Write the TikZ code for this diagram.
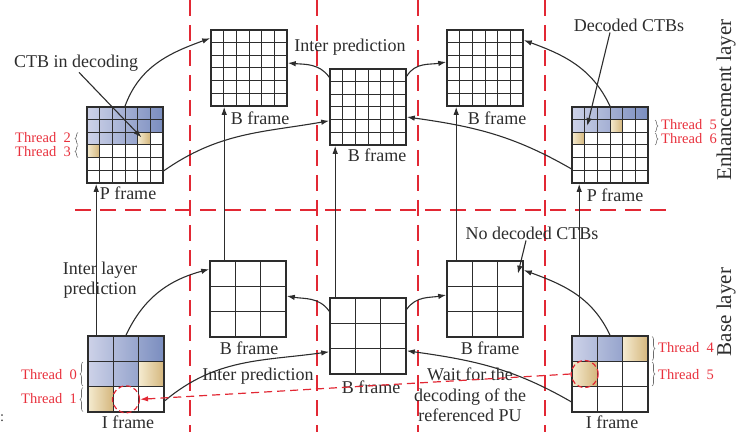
\documentclass[tikz,border=0pt]{standalone}
\usepackage{fontspec}
\setmainfont{Liberation Serif}
\usetikzlibrary{arrows.meta,decorations.pathreplacing}

\definecolor{ink}{RGB}{45,45,45}
\definecolor{sepred}{RGB}{226,40,52}
\definecolor{threadred}{RGB}{232,48,60}
\definecolor{bluelt}{RGB}{205,210,232}
\definecolor{bluedk}{RGB}{122,141,191}
\definecolor{tanlt}{RGB}{245,235,208}
\definecolor{tandk}{RGB}{212,182,124}

\tikzset{
  cellline/.style={draw=ink, line width=1pt},
  frame/.style={draw=ink, line width=1.6pt, minimum size=76pt, inner sep=0pt},
  bluefill/.style={left color=bluelt, right color=bluedk},
  tanfill/.style={left color=tanlt, right color=tandk},
  lbl/.style={font=\fontsize{18}{20.5}\selectfont, text=ink, inner sep=1pt, align=center},
  thr/.style={font=\fontsize{14.5}{16}\selectfont, text=threadred, inner sep=0pt},
  layer/.style={font=\fontsize{21}{24}\selectfont, text=ink, rotate=90},
  conn/.style={draw=ink, line width=1.1pt, -{Latex[length=8pt,width=5.5pt]}},
  sep/.style={draw=sepred, line width=1.3pt, dash pattern=on 16pt off 9pt},
  waitmark/.style={circle, draw=sepred, line width=1.2pt, dash pattern=on 5pt off 3pt, minimum size=27pt, inner sep=0pt},
  waitarr/.style={draw=sepred, line width=1.2pt, dash pattern=on 8pt off 5pt, -{Latex[length=8pt,width=5.5pt]}},
  thbrace/.style={draw=ink!70, line width=0.6pt, decorate, decoration={brace, amplitude=3pt}},
}

% one frame: name, lower left x, lower left y, cells per side, cell size, coloured cells
\newcommand{\gridframe}[6]{%
  \begin{scope}[shift={(#2,#3)}, x=#5, y=#5]
    #6
    \draw[cellline, step=1] (0,0) grid (#4,#4);
    \node[frame] (#1) at (#4/2,#4/2) {};
  \end{scope}}

\begin{document}
\begin{tikzpicture}[x=1pt, y=1pt]
\useasboundingbox (0,0) rectangle (756,432);

% time / layer separators
\draw[sep] (190,432) -- (190,0);
\draw[sep] (317,432) -- (317,0);
\draw[sep] (418,432) -- (418,0);
\draw[sep] (545,432) -- (545,0);
\draw[sep] (75,222) -- (668,222);

% enhancement layer
\gridframe{pL}{87}{249}{6}{12.667pt}{
  \begin{scope}
    \clip (0,4) rectangle (6,6) (0,3) rectangle (4,4);
    \shade[bluefill] (0,0) rectangle (6,6);
  \end{scope}
  \shade[tanfill] (4,3) rectangle (5,4);
  \shade[tanfill] (0,2) rectangle (1,3);
  \coordinate (ctbcell) at (4.3,3.6);}
\gridframe{bL}{211}{326}{6}{12.667pt}{}
\gridframe{bC}{330}{287}{6}{12.667pt}{}
\gridframe{bR}{447}{326}{6}{12.667pt}{}
\gridframe{pR}{572}{249}{6}{12.667pt}{
  \begin{scope}
    \clip (0,5) rectangle (6,6) (0,4) rectangle (3,5);
    \shade[bluefill] (0,0) rectangle (6,6);
  \end{scope}
  \shade[tanfill] (3,4) rectangle (4,5);
  \shade[tanfill] (0,3) rectangle (1,4);
  \coordinate (deccell) at (1.2,4.5);}

% base layer
\gridframe{iL}{88}{20}{3}{25.333pt}{
  \begin{scope}
    \clip (0,2) rectangle (3,3) (0,1) rectangle (2,2);
    \shade[bluefill] (0,0) rectangle (3,3);
  \end{scope}
  \shade[tanfill] (2,1) rectangle (3,2);
  \shade[tanfill] (0,0) rectangle (1,1);}
\gridframe{cL}{210}{95}{3}{25.333pt}{}
\gridframe{cC}{330}{58}{3}{25.333pt}{}
\gridframe{cR}{447}{95}{3}{25.333pt}{\coordinate (nodec) at (2.8,2.5);}
\gridframe{iR}{572}{20}{3}{25.333pt}{
  \begin{scope}
    \clip (0,2) rectangle (2,3);
    \shade[bluefill] (0,0) rectangle (3,3);
  \end{scope}
  \shade[tanfill] (2,2) rectangle (3,3);
  \shade[tanfill] (0,1) rectangle (1,2);}

% labels
\node[lbl] (ctbtxt) at (76,369) {CTB in decoding};
\node[lbl] (ptop) at (350,385) {Inter prediction};
\node[lbl] (dectxt) at (629,407) {Decoded CTBs};
\node[lbl] (bLlbl) at (260,314) {B frame};
\node[lbl] (bClbl) at (377,277) {B frame};
\node[lbl] (bRlbl) at (497,314) {B frame};
\node[lbl] (pLlbl) at (128,239) {P frame};
\node[lbl] (pRlbl) at (615,237) {P frame};
\node[lbl] (iltxt) at (100,152) {Inter layer\\prediction};
\node[lbl] (cLlbl) at (249,84) {B frame};
\node[lbl] (pbot) at (258,56) {Inter prediction};
\node[lbl] (cClbl) at (371,45) {B frame};
\node[lbl] (waittxt) at (470,37) {Wait for the\\decoding of the\\referenced PU};
\node[lbl] (cRlbl) at (490,84) {B frame};
\node[lbl] (nodectxt) at (532,199) {No decoded CTBs};
\node[lbl] (iLlbl) at (128,10) {I frame};
\node[lbl] (iRlbl) at (612,10) {I frame};
\node[layer] (enh) at (726,332) {Enhancement layer};
\node[layer] (base) at (726,120) {Base layer};
\node[thr, text=ink, anchor=west] (colon) at (0,14) {:};

% threads
\node[thr, anchor=east] (t2) at (71,294) {Thread~~2};
\node[thr, anchor=east] (t3) at (71,280) {Thread~~3};
\draw[thbrace] (78,287.5) -- (78,299.5);
\draw[thbrace] (78,274.5) -- (78,286.5);
\node[thr, anchor=west] (t5) at (661,307) {Thread~~5};
\node[thr, anchor=west] (t6) at (661,293) {Thread~~6};
\draw[thbrace] (655,312) -- (655,300);
\draw[thbrace] (655,299) -- (655,287);
\node[thr, anchor=east] (t0) at (77,57) {Thread~~0};
\node[thr, anchor=east] (t1) at (77,33) {Thread~~1};
\draw[thbrace] (83,46) -- (83,70);
\draw[thbrace] (83,20.5) -- (83,44.5);
\node[thr, anchor=west] (t4) at (658,84) {Thread~~4};
\node[thr, anchor=west] (t5b) at (658,57) {Thread~~5};
\draw[thbrace] (652,95.5) -- (652,71.5);
\draw[thbrace] (652,70) -- (652,46);

% inter layer prediction
\draw[conn] ([xshift=9pt]iL.north west) -- ([xshift=9pt]iL.north west |- pL.south);
\draw[conn] ([xshift=15pt]cL.north west) -- ([xshift=15pt]cL.north west |- bL.south);
\draw[conn] ([xshift=6pt]cC.north west) -- ([xshift=6pt]cC.north west |- bC.south);
\draw[conn] ([xshift=10pt]cR.north west) -- ([xshift=10pt]cR.north west |- bR.south);
\draw[conn] ([xshift=8pt]iR.north west) -- ([xshift=8pt]iR.north west |- pR.south);

% inter prediction, enhancement layer
\draw[conn] (pL.north) to[out=70,in=200] ([yshift=-9pt]bL.north west);
\draw[conn] ([yshift=13pt]pL.south east) to[out=35,in=190] ([yshift=25pt]bC.south west);
\draw[conn] ([yshift=-9pt]bC.north west) to[out=125,in=-5] ([yshift=5pt]bL.east);
\draw[conn] ([yshift=-8pt]bC.north east) to[out=60,in=190] ([yshift=6pt]bR.west);
\draw[conn] (pR.north) to[out=115,in=-20] ([yshift=-11pt]bR.north east);
\draw[conn] ([yshift=15pt]pR.south west) to[out=150,in=-8] ([yshift=-10pt]bC.east);

% inter prediction, base layer
\draw[conn] (iL.north) to[out=65,in=195] ([yshift=-9pt]cL.north west);
\draw[conn] ([yshift=12pt]iL.south east) to[out=40,in=188] ([yshift=23pt]cC.south west);
\draw[conn] ([yshift=-14pt]cC.north west) to[out=125,in=-10] ([yshift=3pt]cL.east);
\draw[conn] ([yshift=-12pt]cC.north east) to[out=55,in=190] ([yshift=4pt]cR.west);
\draw[conn] (iR.north) to[out=115,in=-20] ([yshift=-10pt]cR.north east);
\draw[conn] ([yshift=11pt]iR.south west) to[out=150,in=-8] ([yshift=24pt]cC.south east);

% callouts
\draw[conn] ([xshift=3pt]ctbtxt.south) -- (ctbcell);
\draw[conn] ([xshift=-19pt]dectxt.south) -- (deccell);
\draw[conn] ([xshift=-6pt]nodectxt.south) -- (nodec);

% waiting PU
\node[waitmark] (wL) at ([yshift=-25.333pt]iL.center) {};
\node[waitmark] (wR) at ([xshift=-25.333pt]iR.center) {};
\draw[waitarr] (wR.west) -- (wL.east);
\end{tikzpicture}
\end{document}
